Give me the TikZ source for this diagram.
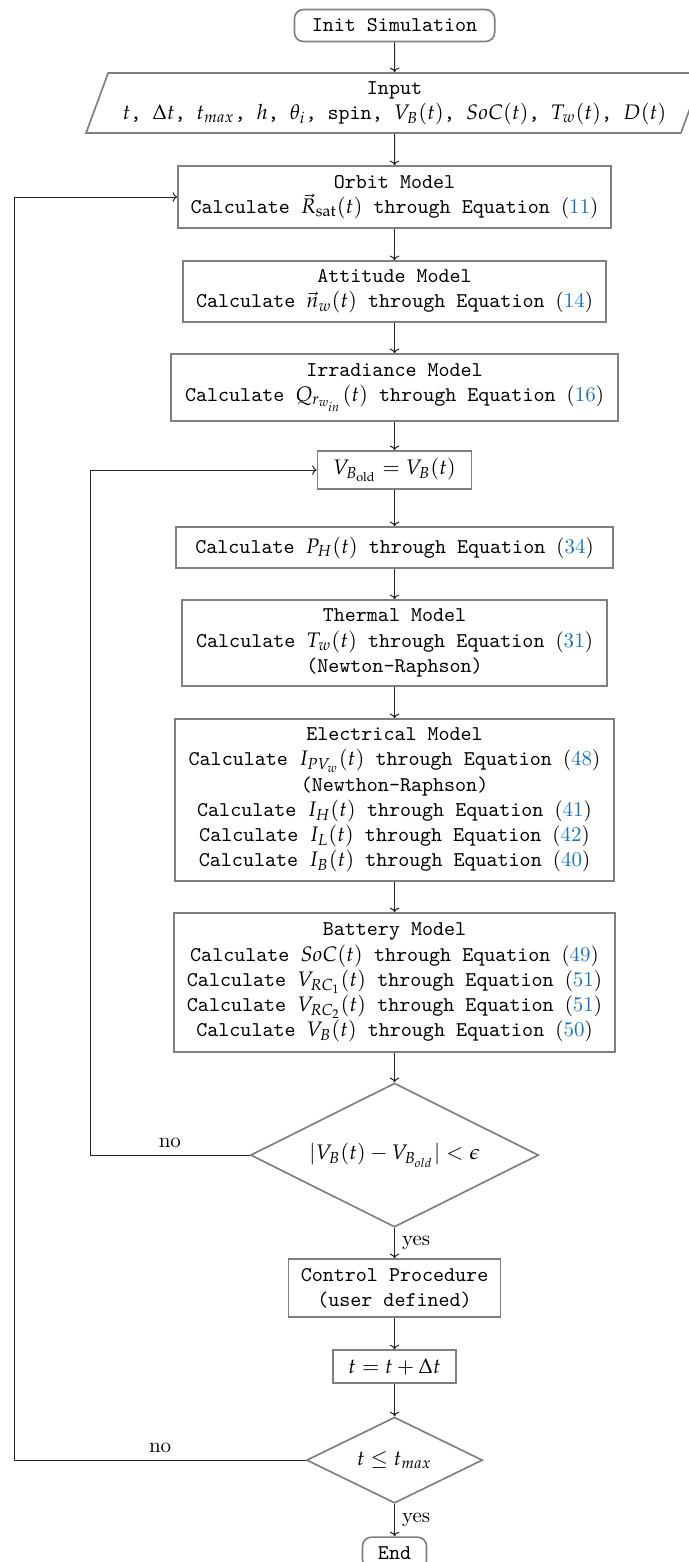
\documentclass[tikz,border=0pt]{standalone}
\IfFileExists{mathpazo.sty}{\usepackage{mathpazo}\renewcommand{\rmdefault}{lmr}}{}
\usetikzlibrary{shapes.geometric,arrows.meta}
\definecolor{linkblue}{RGB}{26,115,190}
\newcommand{\eqnum}[1]{{\normalfont(\textcolor{linkblue}{#1})}}

\begin{document}
\begin{tikzpicture}[
        box/.style={draw=black!50,thick,rectangle,align=center,font=\ttfamily},
        term/.style={box,rounded corners=1ex},
        io/.style={box,trapezium,trapezium left angle=69,trapezium right angle=111,trapezium stretches body,inner xsep=0pt},
        decision/.style={draw=black!50,thick,diamond,aspect=2,inner sep=0pt,align=center},
        flow/.style={-{To[length=2.2pt,width=4.6pt]},line width=0.5pt,draw=black!85}
    ]
        \useasboundingbox (0,0) rectangle (11.51,-26.13);
        %% Start and input
        \node[term,minimum width=3.35cm,minimum height=0.535cm] (init) at (6.6,-0.427) {Init Simulation};
        \node[io,minimum width=10.32cm,minimum height=1.004cm] (input) at (6.6,-1.723) {Input\\ $t$, $\Delta t$, $t_{max}$, $h$, $\theta_i$, spin, $V_B(t)$, $SoC(t)$, $T_w(t)$, $D(t)$};
        %% Models
        \node[box,minimum width=7.244cm,minimum height=1.037cm] (orbit) at (6.6,-3.296) {Orbit Model\\ Calculate $\vec{R}_{\mathrm{sat}}(t)$ through Equation \eqnum{11}};
        \node[box,minimum width=7.077cm,minimum height=1.021cm] (attitude) at (6.6,-4.877) {Attitude Model\\ Calculate $\vec{n}_w(t)$ through Equation \eqnum{14}};
        \node[box,minimum width=7.478cm,minimum height=1.121cm] (irradiance) at (6.6,-6.483) {Irradiance Model\\ Calculate $Q_{r_{w_{in}}}(t)$ through Equation \eqnum{16}};
        \node[box,font=\normalfont,minimum width=2.576cm,minimum height=0.569cm] (vbold) at (6.6,-7.863) {$V_{B_{\mathrm{old}}} = V_B(t)$};
        \node[box,minimum width=7.311cm,minimum height=0.686cm] (heater) at (6.6,-9.160) {Calculate $P_H(t)$ through Equation \eqnum{34}};
        \node[box,minimum width=7.110cm,minimum height=1.439cm] (thermal) at (6.6,-10.757) {Thermal Model\\ Calculate $T_w(t)$ through Equation \eqnum{31}\\ (Newton-Raphson)};
        \node[box,minimum width=7.344cm,minimum height=2.710cm] (electrical) at (6.6,-13.384) {Electrical Model\\ Calculate $I_{PV_w}(t)$ through Equation \eqnum{48}\\ (Newthon-Raphson)\\ Calculate $I_H(t)$ through Equation \eqnum{41}\\ Calculate $I_L(t)$ through Equation \eqnum{42}\\ Calculate $I_B(t)$ through Equation \eqnum{40}};
        \node[box,minimum width=7.378cm,minimum height=2.325cm] (battery) at (6.6,-16.437) {Battery Model\\ Calculate $SoC(t)$ through Equation \eqnum{49}\\ Calculate $V_{RC_1}(t)$ through Equation \eqnum{51}\\ Calculate $V_{RC_2}(t)$ through Equation \eqnum{51}\\ Calculate $V_B(t)$ through Equation \eqnum{50}};
        %% Convergence and time step
        \node[decision,minimum width=4.818cm,minimum height=2.409cm] (converged) at (6.6,-19.323) {$|V_B(t) - V_{B_{old}}| < \epsilon$};
        \node[box,minimum width=3.547cm,minimum height=0.970cm] (control) at (6.6,-21.548) {Control Procedure\\ (user defined)};
        \node[box,font=\normalfont,minimum width=2.058cm,minimum height=0.552cm] (tstep) at (6.6,-22.862) {$t = t + \Delta t$};
        \node[decision,minimum width=2.944cm,minimum height=1.439cm] (tend) at (6.6,-24.426) {$t \leq t_{max}$};
        \node[term,minimum width=1.071cm,minimum height=0.535cm] (stop) at (6.6,-25.981) {End};
        %% Loop rails
        \coordinate (outer) at (0.243,0);
        \coordinate (inner) at (1.506,0);
        %% Arrows
        \draw[flow] (init) -- (input);
        \draw[flow] (input) -- (orbit);
        \draw[flow] (orbit) -- (attitude);
        \draw[flow] (attitude) -- (irradiance);
        \draw[flow] (irradiance) -- (vbold);
        \draw[flow] (vbold) -- (heater);
        \draw[flow] (heater) -- (thermal);
        \draw[flow] (thermal) -- (electrical);
        \draw[flow] (electrical) -- (battery);
        \draw[flow] (battery) -- (converged);
        \draw[flow] (converged) -- (control) node[midway,right] {yes};
        \draw[flow] (control) -- (tstep);
        \draw[flow] (tstep) -- (tend);
        \draw[flow] (tend) -- (stop) node[midway,right] {yes};
        \draw[flow] (converged.west) -- (converged.west -| inner) node[midway,above] {no} |- (vbold.west);
        \draw[flow] (tend.west) -- (tend.west -| outer) node[midway,above] {no} |- (orbit.west);
    \end{tikzpicture}
\end{document}
